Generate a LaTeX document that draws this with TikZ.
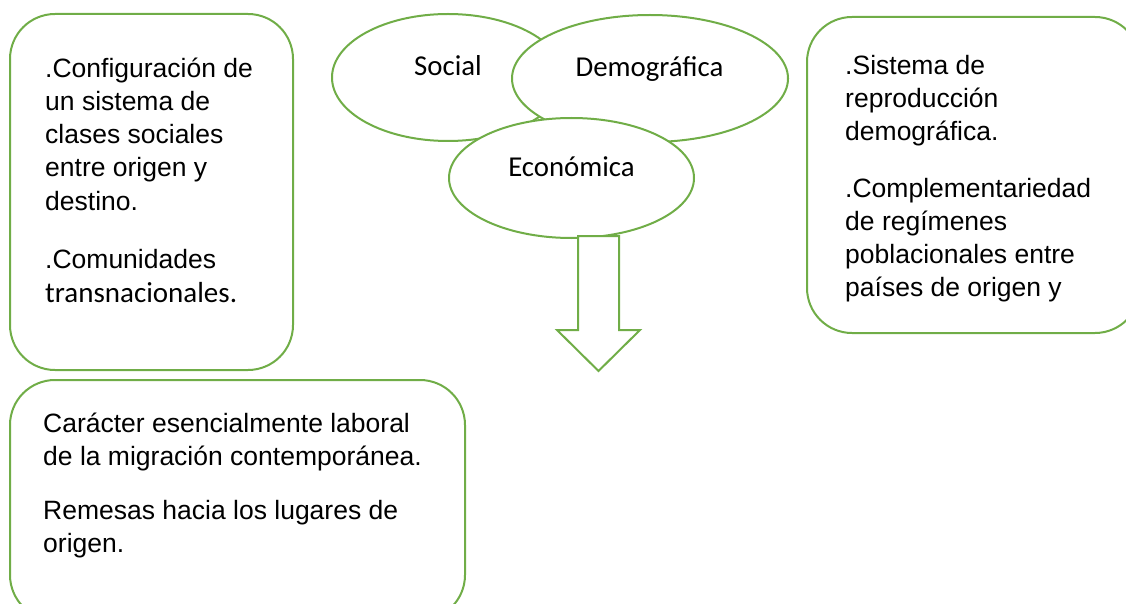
\documentclass[tikz,border=0pt]{standalone}
\usepackage{fontspec}
\setmainfont{Liberation Sans}
\newfontfamily\calibri{Carlito}
\definecolor{wgreen}{HTML}{70AD47}
\tikzset{
  gbox/.style={draw=wgreen, line width=2pt, rounded corners=45pt, fill=white},
  gell/.style={draw=wgreen, line width=2pt, fill=white},
  ln/.style={anchor=base west, inner sep=0pt, font=\fontsize{26.5}{33}\selectfont},
  lc/.style={anchor=base west, inner sep=0pt, font=\calibri\fontsize{29}{35}\selectfont},
  el/.style={anchor=base, inner sep=0pt, font=\calibri\fontsize{28.8}{35}\selectfont},
}
\begin{document}
\begin{tikzpicture}[x=1pt,y=-1pt]
\useasboundingbox (0,0) rectangle (1126,604);
\begin{scope}
\clip (0,0) rectangle (1126,604);
% boxes
\draw[gbox] (10,14) rectangle (293,370);
\draw[gbox] (807,17) rectangle (1140,333);
\draw[gbox] (10,380) rectangle (465,620);
% ellipses
\draw[gell] (448,77.5) ellipse [x radius=116, y radius=63.5];
\draw[gell] (650,78.5) ellipse [x radius=138, y radius=63.5];
\draw[gell] (571.5,178) ellipse [x radius=122.5, y radius=60];
% arrow
\draw[gell, line join=miter] (578,236) -- (619,236) -- (619,330) -- (640,330) -- (598.5,371) -- (557,330) -- (578,330) -- cycle;
\end{scope}
% ellipse labels
\node[el] (social) at (448,76) {Social};
\node[el] (demo) at (649.5,77) {Demográfica};
\node[el] (econ) at (571.5,177) {Económica};
% left box
\node[ln] (a1) at (45,78) {.Configuración de};
\node[ln] (a2) at (45,111) {un sistema de};
\node[ln] (a3) at (45,144) {clases sociales};
\node[ln] (a4) at (45,177) {entre origen y};
\node[ln] (a5) at (45,210) {destino.};
\node[ln] (a6) at (45,268) {.Comunidades};
\node[lc] (a7) at (45,302) {transnacionales.};
% right box
\node[ln] (b1) at (845,75) {.Sistema de};
\node[ln] (b2) at (845,108) {reproducción};
\node[ln] (b3) at (845,141) {demográfica.};
\node[ln] (b4) at (845,197) {.Complementariedad};
\node[ln] (b5) at (845,230) {de regímenes};
\node[ln] (b6) at (845,263) {poblacionales entre};
\node[ln] (b7) at (845,296) {países de origen y};
% bottom box
\node[ln] (c1) at (43,432) {Carácter esencialmente laboral};
\node[ln] (c2) at (43,465) {de la migración contemporánea.};
\node[ln] (c3) at (43,519) {Remesas hacia los lugares de};
\node[ln] (c4) at (43,552) {origen.};
\end{tikzpicture}
\end{document}
